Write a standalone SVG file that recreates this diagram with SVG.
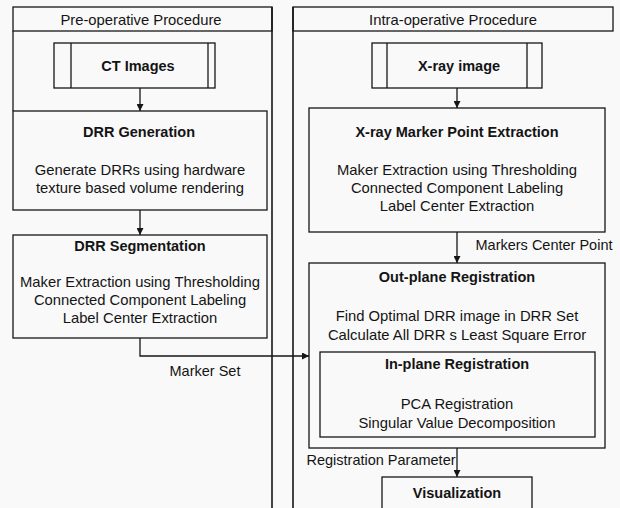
<svg xmlns="http://www.w3.org/2000/svg" width="620" height="508" viewBox="0 0 620 508">
<defs>
<style>
.bx{fill:none;stroke:#161616;stroke-width:1.3}
.ln{fill:none;stroke:#161616;stroke-width:1.3}
.lane{fill:none;stroke:#161616;stroke-width:1.6}
text{font-family:"Liberation Sans",Arial,sans-serif;fill:#141414;text-anchor:middle}
.t{font-size:14.5px;font-weight:bold}
.b{font-size:14.8px}
.h{font-size:14.8px}
.l{font-size:14.5px}
</style>
<marker id="ah" viewBox="0 0 10 10" refX="10" refY="5" markerWidth="7" markerHeight="7" markerUnits="userSpaceOnUse" orient="auto">
<path d="M0,0 L10,5 L0,10 Z" fill="#161616"/>
</marker>
</defs>
<rect width="620" height="508" fill="#f9f9f9"/>

<g id="lane-pre">
<rect class="bx" x="13" y="7" width="259" height="24"/>
<line class="lane" x1="272" y1="7" x2="272" y2="508"/>
<line class="ln" x1="13" y1="31" x2="13" y2="111"/>
<text class="h" x="141" y="24.5">Pre-operative Procedure</text>
</g>

<g id="lane-intra">
<rect class="bx" x="293" y="7" width="320" height="24"/>
<line class="lane" x1="293" y1="7" x2="293" y2="508"/>
<text class="h" x="453" y="24.5">Intra-operative Procedure</text>
</g>

<g id="ct-images">
<rect class="bx" x="54" y="43" width="161" height="45"/>
<line class="ln" x1="71" y1="43" x2="71" y2="88"/>
<line class="ln" x1="208" y1="43" x2="208" y2="88"/>
<text class="t" x="138" y="71">CT Images</text>
</g>

<g id="drr-generation">
<rect class="bx" x="13" y="111" width="254" height="99"/>
<text class="t" x="139" y="137">DRR Generation</text>
<text class="b" x="140" y="175">Generate DRRs using hardware</text>
<text class="b" x="140" y="193">texture based volume rendering</text>
</g>

<g id="drr-segmentation">
<rect class="bx" x="13" y="235" width="254" height="103"/>
<text class="t" x="140" y="251">DRR Segmentation</text>
<text class="b" x="140" y="287">Maker Extraction using Thresholding</text>
<text class="b" x="140" y="305">Connected Component Labeling</text>
<text class="b" x="140" y="323">Label Center Extraction</text>
</g>

<g id="xray-image">
<rect class="bx" x="372" y="43" width="170" height="45"/>
<line class="ln" x1="387" y1="43" x2="387" y2="88"/>
<line class="ln" x1="527" y1="43" x2="527" y2="88"/>
<text class="t" x="459" y="71">X-ray image</text>
</g>

<g id="xray-marker-extraction">
<rect class="bx" x="309" y="108" width="296" height="124"/>
<text class="t" x="457" y="137">X-ray Marker Point Extraction</text>
<text class="b" x="457" y="175">Maker Extraction using Thresholding</text>
<text class="b" x="457" y="193">Connected Component Labeling</text>
<text class="b" x="457" y="211">Label Center Extraction</text>
</g>

<g id="out-plane-registration">
<rect class="bx" x="309" y="263" width="296" height="185"/>
<text class="t" x="457" y="282">Out-plane Registration</text>
<text class="b" x="457" y="321">Find Optimal DRR image in DRR Set</text>
<text class="b" x="457" y="340">Calculate All DRR s Least Square Error</text>
</g>

<g id="in-plane-registration">
<rect class="bx" x="320" y="352" width="275" height="85"/>
<text class="t" x="457" y="369">In-plane Registration</text>
<text class="b" x="457" y="409">PCA Registration</text>
<text class="b" x="457" y="428">Singular Value Decomposition</text>
</g>

<g id="visualization">
<rect class="bx" x="382" y="477" width="150" height="40"/>
<text class="t" x="457" y="498">Visualization</text>
</g>

<g id="connectors">
<line class="ln" x1="140" y1="88" x2="140" y2="111" marker-end="url(#ah)"/>
<line class="ln" x1="140" y1="210" x2="140" y2="235" marker-end="url(#ah)"/>
<polyline class="ln" points="140,338 140,356 309,356" marker-end="url(#ah)"/>
<text class="l" x="205" y="376">Marker Set</text>
<line class="ln" x1="457" y1="88" x2="457" y2="108" marker-end="url(#ah)"/>
<line class="ln" x1="457" y1="232" x2="457" y2="263" marker-end="url(#ah)"/>
<text class="l" x="544" y="250">Markers Center Point</text>
<line class="ln" x1="457" y1="448" x2="457" y2="477" marker-end="url(#ah)"/>
<text class="l" x="381" y="465">Registration Parameter</text>
</g>
</svg>
